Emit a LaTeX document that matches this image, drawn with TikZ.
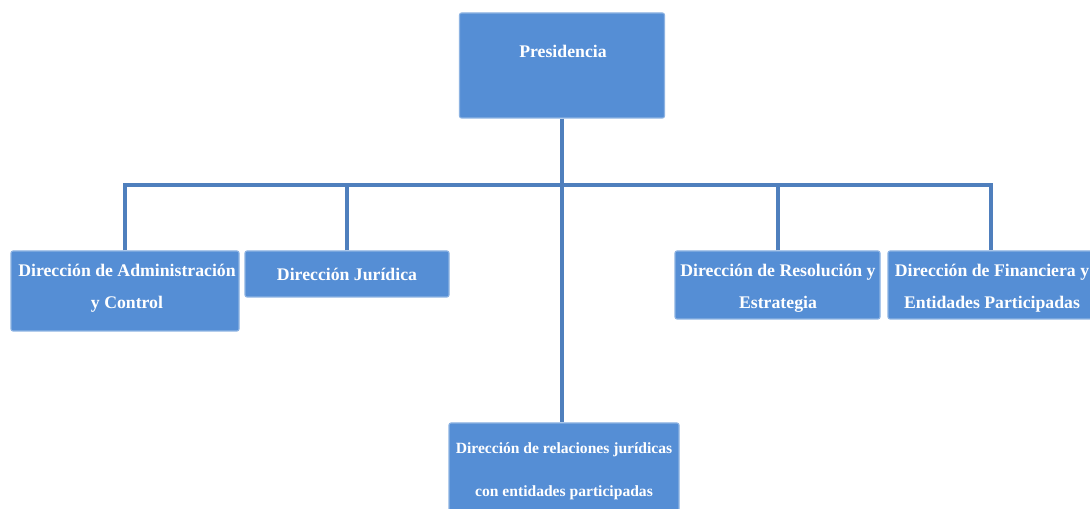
\documentclass[tikz,border=0pt]{standalone}
\usepackage{fontspec}
\setmainfont{Liberation Serif}
\definecolor{boxfill}{HTML}{558ED5}
\definecolor{boxedge}{HTML}{8DB3E2}
\definecolor{linecol}{HTML}{4F7FBD}
\begin{document}
\begin{tikzpicture}[x=0.75pt,y=-0.75pt,
  box/.style={draw=boxedge,fill=boxfill,line width=0.8pt,rounded corners=1.5pt,inner sep=0pt},
  txt/.style={text=white,font=\bfseries\fontsize{13.3}{24}\selectfont,align=center,inner sep=0pt},
  smalltxt/.style={text=white,font=\bfseries\fontsize{11.7}{32}\selectfont,align=center,inner sep=0pt},
  conn/.style={draw=linecol,line width=3pt}]
\clip (0,0) rectangle (1090,509);
\fill[white] (0,0) rectangle (1090,509);
% boxes
\node[box,minimum width=205*0.75pt,minimum height=105*0.75pt] (pres) at (562,65.5) {};
\node[box,minimum width=228*0.75pt,minimum height=80*0.75pt] (adm) at (125,291) {};
\node[box,minimum width=204*0.75pt,minimum height=46*0.75pt] (jur) at (347,274) {};
\node[box,minimum width=205*0.75pt,minimum height=68*0.75pt] (res) at (777.5,285) {};
\node[box,minimum width=206*0.75pt,minimum height=68*0.75pt] (fin) at (991,285) {};
\node[box,minimum width=230*0.75pt,minimum height=110*0.75pt] (rel) at (564,478) {};
% texts
\node[txt] (presT) at (563,51) {Presidencia};
\node[txt] (admT) at (127,288.5) {Dirección de Administración\\y Control};
\node[txt] (jurT) at (347,274) {Dirección Jurídica};
\node[txt] (resT) at (778,288.5) {Dirección de Resolución y\\Estrategia};
\node[txt] (finT) at (992,288.5) {Dirección de Financiera y\\Entidades Participadas};
\node[smalltxt] (relT) at (564,471.5) {Dirección de relaciones jurídicas\\con entidades participadas};
% connectors
\coordinate (bus) at (562,185);
\draw[conn] (pres.south) -- (pres.south |- rel.north);
\draw[conn] (adm.north) |- (bus) -| (fin.north);
\draw[conn] (jur.north) -- (jur.north |- bus);
\draw[conn] (res.north) -- (res.north |- bus);
\end{tikzpicture}
\end{document}
